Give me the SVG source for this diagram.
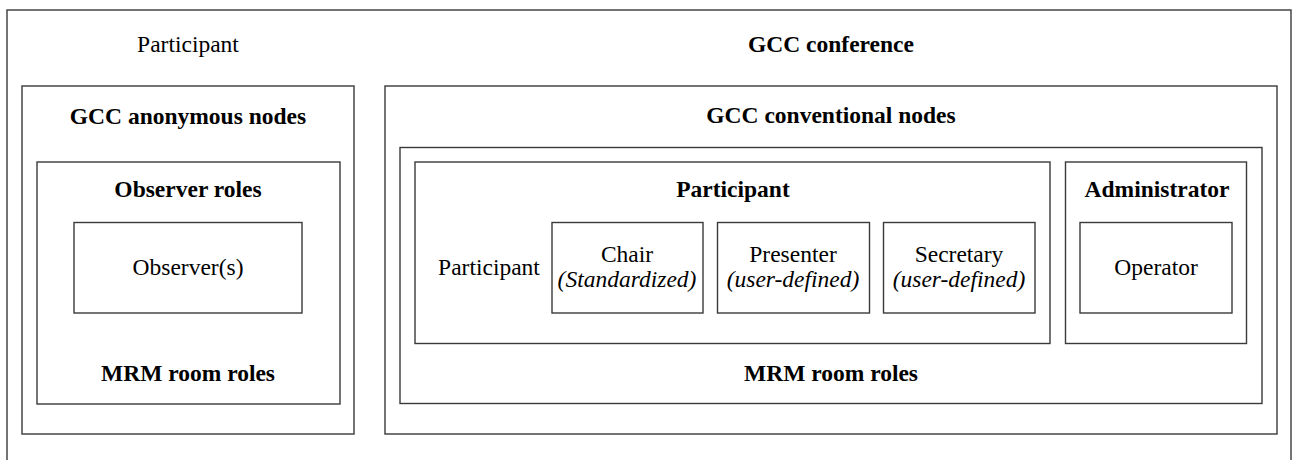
<svg xmlns="http://www.w3.org/2000/svg" width="1292" height="460" viewBox="0 0 1292 460">
  <style>
    .box { fill: none; stroke: #3a3a3a; stroke-width: 1.4; }
    .b { font-weight: bold; }
    .i { font-style: italic; }
  </style>
  <rect width="1292" height="460" fill="#fff"/>

  <g font-family="Liberation Serif, Times New Roman, Times, serif" font-size="23.5" fill="#000" text-anchor="middle">
    <!-- outer conference frame (runs off the bottom edge) -->
    <g id="conference">
      <rect class="box" x="7" y="10" width="1284" height="470"/>
      <text x="188" y="52">Participant</text>
      <text class="b" x="831" y="52">GCC conference</text>
    </g>

    <!-- anonymous nodes column -->
    <g id="anonymous-nodes">
      <rect class="box" x="22" y="86" width="332" height="348"/>
      <text class="b" x="188" y="124">GCC anonymous nodes</text>
    </g>
    <g id="observer-roles">
      <rect class="box" x="37" y="162" width="303" height="242"/>
      <text class="b" x="188" y="197">Observer roles</text>
      <text class="b" x="188" y="381">MRM room roles</text>
    </g>
    <g id="observer">
      <rect class="box" x="74" y="222.5" width="228" height="90.5"/>
      <text x="188" y="275">Observer(s)</text>
    </g>

    <!-- conventional nodes column -->
    <g id="conventional-nodes">
      <rect class="box" x="385" y="86" width="892" height="348"/>
      <text class="b" x="831" y="123">GCC conventional nodes</text>
    </g>
    <g id="mrm-room-roles">
      <rect class="box" x="400" y="147.5" width="862" height="256"/>
      <text class="b" x="831" y="381">MRM room roles</text>
    </g>
    <g id="participant">
      <rect class="box" x="415" y="162" width="635" height="181.5"/>
      <text class="b" x="733" y="197">Participant</text>
      <text x="489" y="275">Participant</text>
    </g>
    <g id="chair">
      <rect class="box" x="552" y="222.5" width="151" height="90.5"/>
      <text x="627" y="262">Chair</text>
      <text class="i" x="627" y="287">(Standardized)</text>
    </g>
    <g id="presenter">
      <rect class="box" x="717.5" y="222.5" width="152" height="90.5"/>
      <text x="793" y="262">Presenter</text>
      <text class="i" x="793" y="287">(user-defined)</text>
    </g>
    <g id="secretary">
      <rect class="box" x="883.5" y="222.5" width="151.5" height="90.5"/>
      <text x="959" y="262">Secretary</text>
      <text class="i" x="959" y="287">(user-defined)</text>
    </g>
    <g id="administrator">
      <rect class="box" x="1065.5" y="162" width="181" height="181.5"/>
      <text class="b" x="1157" y="197">Administrator</text>
    </g>
    <g id="operator">
      <rect class="box" x="1080" y="222.5" width="152" height="90.5"/>
      <text x="1156" y="275">Operator</text>
    </g>
  </g>

  <g id="connectors"/>
</svg>
